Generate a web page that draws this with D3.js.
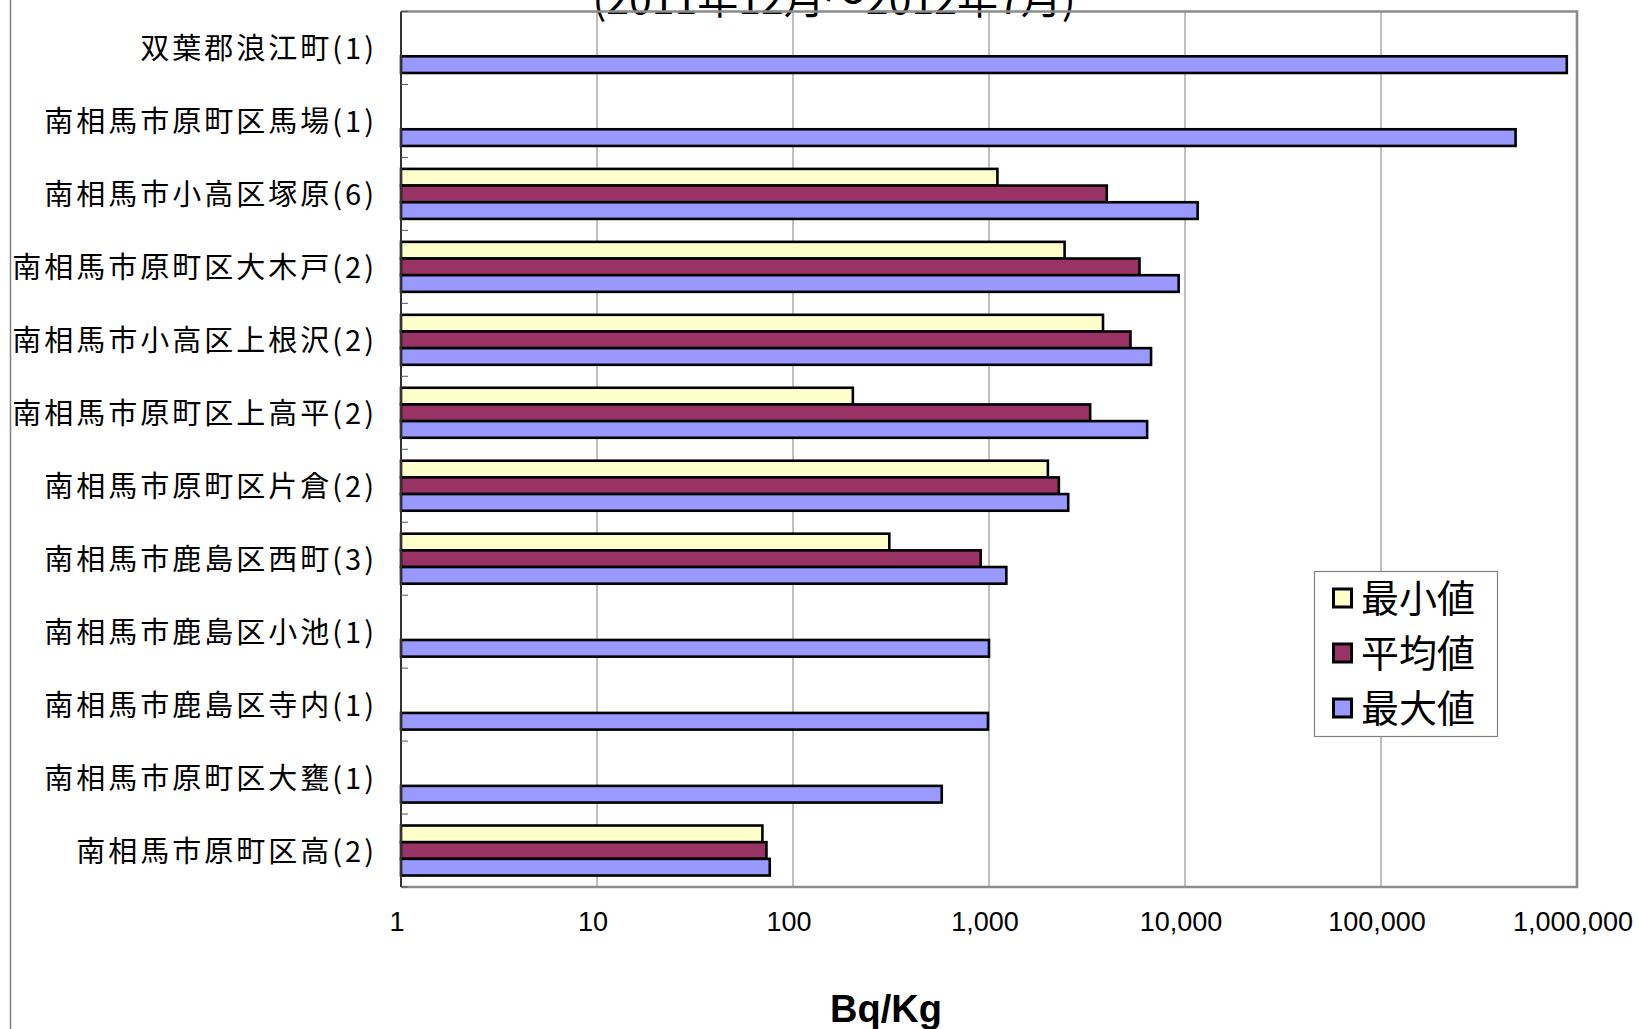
<!DOCTYPE html>
<html>
<head>
<meta charset="utf-8">
<script src="https://cdn.jsdelivr.net/npm/d3@7"></script>
<style>
  html, body { margin: 0; padding: 0; background: #fff; }
  svg { display: block; }
</style>
</head>
<body>
<svg id="chart" width="1639" height="1029"></svg>
<script>
// ---- data ----
const categories = [
  "双葉郡浪江町(1)",
  "南相馬市原町区馬場(1)",
  "南相馬市小高区塚原(6)",
  "南相馬市原町区大木戸(2)",
  "南相馬市小高区上根沢(2)",
  "南相馬市原町区上高平(2)",
  "南相馬市原町区片倉(2)",
  "南相馬市鹿島区西町(3)",
  "南相馬市鹿島区小池(1)",
  "南相馬市鹿島区寺内(1)",
  "南相馬市原町区大甕(1)",
  "南相馬市原町区高(2)"
];
const seriesNames = ["最小値", "平均値", "最大値"];
const minValues = [null, null, 1104, 2430, 3816, 202, 1997, 310, null, null, null, 69.8];
const avgValues = [null, null, 3990, 5860, 5270, 3282, 2272, 907, null, null, null, 73.2];
const maxValues = [887000, 486000, 11600, 9280, 6710, 6408, 2536, 1226, 1000, 988, 574, 76.1];
const seriesColors = ["#FFFFCC", "#993366", "#9999FF"];
const tickValues = [1, 10, 100, 1000, 10000, 100000, 1000000];
const titleText = "(2011年12月～2012年7月)";
const axisTitle = "Bq/Kg";

const seriesValues = [minValues, avgValues, maxValues];

// ---- layout ----
const svg = d3.select("#chart");
const plotL = 401, plotR = 1577, plotT = 11.5, plotB = 887;

const x = d3.scaleLog().domain([1, 1000000]).range([plotL, plotR]);
const y = d3.scaleBand().domain(categories).range([plotT, plotB]).padding(0);
const groupH = 50;
const sub = d3.scaleBand().domain(seriesNames).range([0, groupH]).padding(0);

const cjk = "'Noto Sans CJK JP', 'Noto Sans CJK SC', sans-serif";
const latin = "'Liberation Sans', Arial, sans-serif";

// outer chart-area left border
svg.append("line")
  .attr("x1", 10.5).attr("x2", 10.5).attr("y1", 0).attr("y2", 1029)
  .attr("stroke", "#808080").attr("stroke-width", 1.5);

// title (clipped at top, as in the original)
svg.append("text")
  .attr("x", 834).attr("y", 14)
  .attr("text-anchor", "middle")
  .attr("font-family", cjk)
  .attr("font-size", 41)
  .attr("fill", "#000")
  .text(titleText);

// gridlines
svg.append("g")
  .selectAll("line")
  .data(tickValues.slice(1, -1))
  .join("line")
  .attr("x1", d => x(d)).attr("x2", d => x(d))
  .attr("y1", plotT).attr("y2", plotB)
  .attr("stroke", "#808080").attr("stroke-width", 1);

// bars
const rows = [];
categories.forEach((c, i) => {
  seriesNames.forEach((s, j) => {
    const v = seriesValues[j][i];
    if (v != null) rows.push({ cat: c, series: s, idx: j, value: v });
  });
});

svg.append("g")
  .selectAll("rect")
  .data(rows)
  .join("rect")
  .attr("x", x(1))
  .attr("y", d => y(d.cat) + (y.bandwidth() - groupH) / 2 + sub(d.series))
  .attr("width", d => x(d.value) - x(1))
  .attr("height", sub.bandwidth())
  .attr("fill", d => seriesColors[d.idx])
  .attr("stroke", "#000")
  .attr("stroke-width", 2.6);

// plot border (gray) top/right/bottom
svg.append("path")
  .attr("d", `M${plotL},${plotT} H${plotR} V${plotB} H${plotL}`)
  .attr("fill", "none")
  .attr("stroke", "#8c8c8c")
  .attr("stroke-width", 2.6);

// y axis line + inward ticks at band boundaries
const yAxisG = svg.append("g");
yAxisG.append("line")
  .attr("x1", plotL).attr("x2", plotL).attr("y1", plotT).attr("y2", plotB)
  .attr("stroke", "#333").attr("stroke-width", 2);
const boundaries = categories.map(c => y(c)).concat([plotB]);
yAxisG.selectAll("line.tk")
  .data(boundaries)
  .join("line")
  .attr("class", "tk")
  .attr("x1", plotL).attr("x2", plotL + 7)
  .attr("y1", d => d).attr("y2", d => d)
  .attr("stroke", "#555").attr("stroke-width", 1);

// category labels
svg.append("g")
  .selectAll("text")
  .data(categories)
  .join("text")
  .attr("x", 377)
  .attr("y", d => y(d) + y.bandwidth() / 2 - 2)
  .attr("text-anchor", "end")
  .attr("dominant-baseline", "central")
  .attr("font-family", cjk)
  .attr("font-size", 29)
  .attr("letter-spacing", 3)
  .attr("fill", "#000")
  .text(d => d);

// x axis tick labels
const fmt = d3.format(",");
svg.append("g")
  .selectAll("text")
  .data(tickValues)
  .join("text")
  .attr("x", d => x(d) - 4)
  .attr("y", 922)
  .attr("text-anchor", "middle")
  .attr("dominant-baseline", "central")
  .attr("font-family", latin)
  .attr("font-size", 27)
  .attr("fill", "#000")
  .text(d => fmt(d));

// axis title
svg.append("text")
  .attr("x", 886).attr("y", 1009)
  .attr("text-anchor", "middle")
  .attr("dominant-baseline", "central")
  .attr("font-family", latin)
  .attr("font-weight", "bold")
  .attr("font-size", 38)
  .attr("fill", "#000")
  .text(axisTitle);

// legend
const lg = svg.append("g");
lg.append("rect")
  .attr("x", 1314.5).attr("y", 571.5).attr("width", 183).attr("height", 165)
  .attr("fill", "#fff").attr("stroke", "#808080").attr("stroke-width", 1.2);
const ly = d3.scalePoint().domain(seriesNames).range([598, 708]);
const items = lg.selectAll("g.item").data(seriesNames).join("g").attr("class", "item");
items.append("rect")
  .attr("x", 1333.5).attr("y", d => ly(d) - 9)
  .attr("width", 18).attr("height", 18)
  .attr("fill", (d, i) => seriesColors[i])
  .attr("stroke", "#000").attr("stroke-width", 3);
items.append("text")
  .attr("x", 1361).attr("y", d => ly(d) - 3)
  .attr("dominant-baseline", "central")
  .attr("font-family", cjk)
  .attr("font-size", 38)
  .attr("fill", "#000")
  .text(d => d);
</script>
</body>
</html>
